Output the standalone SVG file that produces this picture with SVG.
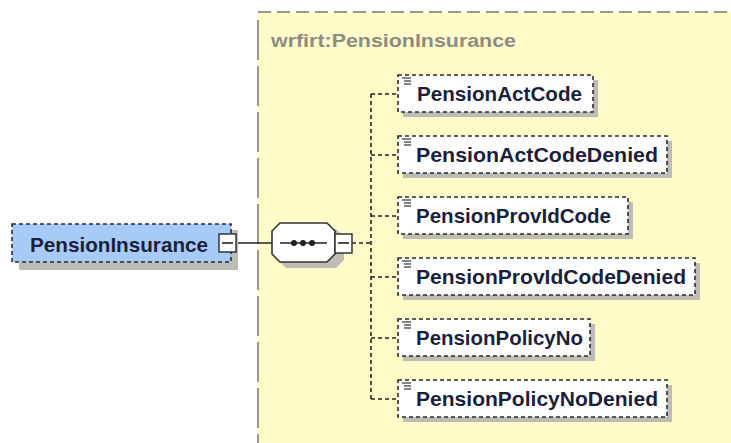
<svg xmlns="http://www.w3.org/2000/svg" width="731" height="443" viewBox="0 0 731 443">
<style>
.bg{fill:#ffffff}
.frame{fill:#fffcc9}
.fb{stroke:#9a9a8a;stroke-width:2;stroke-dasharray:13 6;fill:none}
.title{font-family:"Liberation Sans",Arial,sans-serif;font-weight:bold;font-size:19px;fill:#8c8c84}
.shadow{fill:#bdbdb6}
.el{fill:#ffffff;stroke:#2a2a2a;stroke-width:1.6;stroke-dasharray:4 3}
.root{fill:#a6cbf5;stroke:#2a2a3a;stroke-width:1.6;stroke-dasharray:4 3}
.lbl{font-family:"Liberation Sans",Arial,sans-serif;font-weight:bold;font-size:21px;fill:#1c1f3c}
.ico{stroke:#333;stroke-width:1.2}
.conn{stroke:#222;stroke-width:1.6;fill:none}
.dash{stroke:#222;stroke-width:1.6;stroke-dasharray:4 3;fill:none}
.box{fill:#ffffff;stroke:#333;stroke-width:1.5}
</style>
<rect class="bg" x="0" y="0" width="731" height="443"/>
<g id="frame">
<rect class="frame" x="258" y="12" width="473" height="431"/>
<line class="fb" x1="258" y1="12" x2="731" y2="12"/>
<line class="fb" x1="258" y1="20" x2="258" y2="443" style="stroke-dasharray:40 6"/>
<text class="title" x="271" y="47" textLength="245" lengthAdjust="spacingAndGlyphs">wrfirt:PensionInsurance</text>
</g>
<g id="connectors">
<line class="conn" x1="237" y1="243" x2="272" y2="243"/>
<line class="dash" x1="352" y1="243" x2="371" y2="243"/>
<line class="dash" x1="371" y1="94" x2="371" y2="399"/>
<line class="dash" x1="371" y1="94" x2="398" y2="94"/>
<line class="dash" x1="371" y1="155" x2="398" y2="155"/>
<line class="dash" x1="371" y1="216" x2="398" y2="216"/>
<line class="dash" x1="371" y1="277" x2="398" y2="277"/>
<line class="dash" x1="371" y1="338" x2="398" y2="338"/>
<line class="dash" x1="371" y1="399" x2="398" y2="399"/>
</g>
<g id="PensionInsurance">
<rect class="shadow" x="19" y="230" width="219" height="40"/>
<rect class="root" x="12" y="224" width="219" height="38"/>
<text class="lbl" x="30" y="252" textLength="178" lengthAdjust="spacingAndGlyphs">PensionInsurance</text>
<rect class="box" x="219" y="234" width="17" height="18"/>
<line class="conn" x1="222" y1="243" x2="233" y2="243"/>
</g>
<g id="sequence">
<path class="shadow" d="M286,229 H336 L344,237 V260 L336,268 H286 L278,260 V237 Z"/>
<path d="M280,223 H327 L335,231 V254 L327,262 H280 L272,254 V231 Z" fill="#ffffff" stroke="#333" stroke-width="1.6"/>
<line class="conn" x1="280" y1="243" x2="327" y2="243"/>
<circle cx="294" cy="243" r="3" fill="#222"/>
<circle cx="303" cy="243" r="3" fill="#222"/>
<circle cx="312" cy="243" r="3" fill="#222"/>
<rect class="box" x="335" y="234" width="17" height="19"/>
<line class="conn" x1="338" y1="243" x2="349" y2="243"/>
</g>
<g id="PensionActCode">
<rect class="shadow" x="403" y="80" width="195" height="37"/>
<rect class="el" x="398" y="75" width="195" height="37"/>
<line class="ico" x1="402" y1="78" x2="411" y2="78"/><line class="ico" x1="404" y1="81" x2="411" y2="81"/><line class="ico" x1="404" y1="84" x2="411" y2="84"/>
<text class="lbl" x="417" y="101" textLength="165" lengthAdjust="spacingAndGlyphs">PensionActCode</text>
</g>
<g id="PensionActCodeDenied">
<rect class="shadow" x="403" y="141" width="269" height="37"/>
<rect class="el" x="398" y="136" width="269" height="37"/>
<line class="ico" x1="402" y1="139" x2="411" y2="139"/><line class="ico" x1="404" y1="142" x2="411" y2="142"/><line class="ico" x1="404" y1="145" x2="411" y2="145"/>
<text class="lbl" x="416" y="162" textLength="242" lengthAdjust="spacingAndGlyphs">PensionActCodeDenied</text>
</g>
<g id="PensionProvIdCode">
<rect class="shadow" x="403" y="202" width="230" height="37"/>
<rect class="el" x="398" y="197" width="230" height="37"/>
<line class="ico" x1="402" y1="200" x2="411" y2="200"/><line class="ico" x1="404" y1="203" x2="411" y2="203"/><line class="ico" x1="404" y1="206" x2="411" y2="206"/>
<text class="lbl" x="416" y="223" textLength="195" lengthAdjust="spacingAndGlyphs">PensionProvIdCode</text>
</g>
<g id="PensionProvIdCodeDenied">
<rect class="shadow" x="403" y="263" width="297" height="37"/>
<rect class="el" x="398" y="258" width="297" height="37"/>
<line class="ico" x1="402" y1="261" x2="411" y2="261"/><line class="ico" x1="404" y1="264" x2="411" y2="264"/><line class="ico" x1="404" y1="267" x2="411" y2="267"/>
<text class="lbl" x="416" y="284" textLength="270" lengthAdjust="spacingAndGlyphs">PensionProvIdCodeDenied</text>
</g>
<g id="PensionPolicyNo">
<rect class="shadow" x="403" y="324" width="192" height="37"/>
<rect class="el" x="398" y="319" width="192" height="37"/>
<line class="ico" x1="402" y1="322" x2="411" y2="322"/><line class="ico" x1="404" y1="325" x2="411" y2="325"/><line class="ico" x1="404" y1="328" x2="411" y2="328"/>
<text class="lbl" x="416" y="345" textLength="167" lengthAdjust="spacingAndGlyphs">PensionPolicyNo</text>
</g>
<g id="PensionPolicyNoDenied">
<rect class="shadow" x="403" y="385" width="269" height="37"/>
<rect class="el" x="398" y="380" width="269" height="37"/>
<line class="ico" x1="402" y1="383" x2="411" y2="383"/><line class="ico" x1="404" y1="386" x2="411" y2="386"/><line class="ico" x1="404" y1="389" x2="411" y2="389"/>
<text class="lbl" x="416" y="406" textLength="242" lengthAdjust="spacingAndGlyphs">PensionPolicyNoDenied</text>
</g>
</svg>
